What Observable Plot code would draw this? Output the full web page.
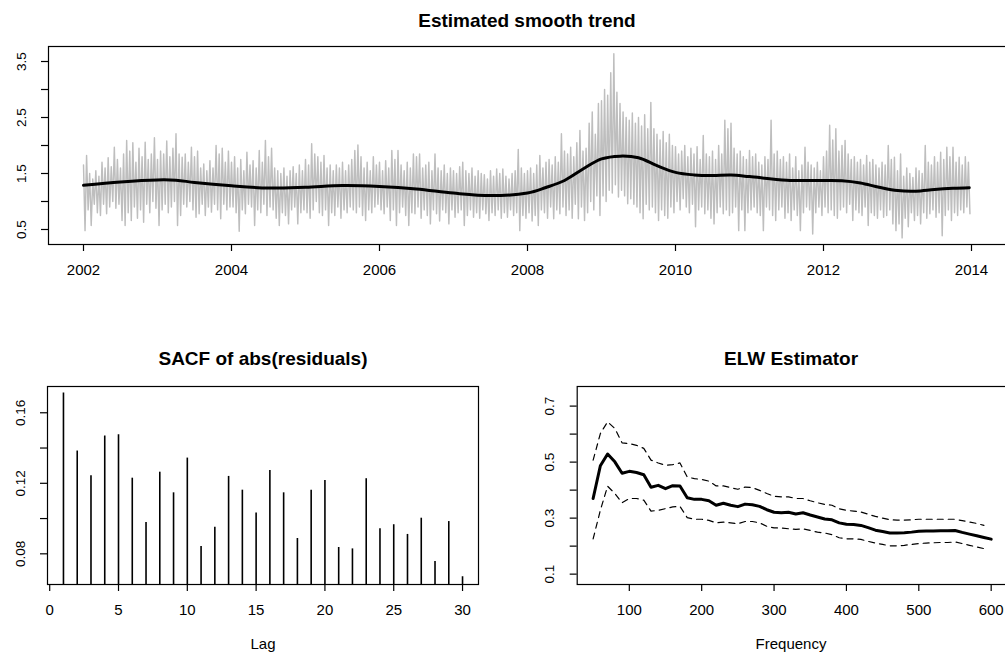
<!DOCTYPE html>
<html><head><meta charset="utf-8">
<script src="https://cdn.jsdelivr.net/npm/d3@7"></script>
<script src="https://cdn.jsdelivr.net/npm/@observablehq/plot@0.6"></script>
<style>
body{margin:0;background:#fff;}
#fig{position:relative;width:1005px;height:657px;overflow:hidden;background:#fff;font-family:"Liberation Sans",Arial,Helvetica,sans-serif;color:#000;}
.t{position:absolute;transform:translate(-50%,-50%);white-space:nowrap;line-height:1;}
.title{font-weight:bold;font-size:19px;}
.lab{font-size:15px;}
.panel{position:absolute;}
</style></head><body><div id="fig"></div>
<script>
// ---------- Top panel: daily series (read as local highs / lows, 24 per year) ----------
const seriesStart = 2002;
const seriesHigh = [
  1.65,1.82,1.50,1.40,1.55,1.45,1.70,1.60,1.78,1.62,1.97,1.75,1.60,1.85,2.09,1.90,2.05,1.70,1.95,1.80,2.06,1.75,1.85,2.14, // 2002
  1.75,1.90,1.85,2.08,1.80,1.95,2.21,1.85,1.79,1.85,1.70,1.97,1.80,1.90,1.60,1.67,1.55,1.73,1.60,2.00,1.85,1.95,1.70,1.90, // 2003
  1.70,1.80,1.60,1.75,1.55,1.88,1.65,1.73,1.60,1.91,1.70,2.09,1.80,1.95,1.60,1.55,1.50,1.60,1.45,1.55,1.62,1.50,1.65,1.55, // 2004
  1.75,1.65,2.03,1.85,1.80,1.70,1.82,1.60,1.65,1.55,1.65,1.60,1.70,1.55,1.65,1.75,1.91,2.01,1.80,1.60,1.70,1.55,1.80,1.65, // 2005
  1.70,1.55,1.73,1.60,1.91,1.75,1.91,1.65,1.55,1.70,1.60,1.85,1.80,1.85,1.60,1.65,1.70,1.55,1.85,1.60,1.55,1.65,1.50,1.60, // 2006
  1.55,1.50,1.62,1.70,1.55,1.50,1.60,1.45,1.55,1.50,1.48,1.40,1.55,1.45,1.58,1.50,1.58,1.45,1.40,1.50,1.55,1.93,1.60,1.50, // 2007
  1.55,1.60,1.50,1.65,1.82,1.60,1.70,1.75,1.65,1.80,1.70,2.21,1.90,1.85,1.97,1.80,2.05,2.27,1.90,1.95,2.40,2.60,2.20,2.75, // 2008
  2.80,3.00,2.90,3.30,3.64,2.95,2.75,2.60,2.50,2.45,2.58,2.40,2.50,2.35,2.55,2.30,2.77,2.30,2.20,2.10,2.25,2.05,2.20,2.00, // 2009
  1.98,1.85,1.90,2.00,1.80,1.95,1.85,1.98,1.75,2.18,1.85,1.80,1.90,1.75,2.00,1.85,2.45,2.30,2.40,1.95,1.85,1.90,1.80,1.75, // 2010
  1.91,1.80,1.85,1.70,1.65,1.80,1.75,2.45,1.85,1.90,1.75,1.80,1.70,1.85,1.60,1.80,1.55,1.65,1.97,1.70,1.65,1.60,1.70,1.55, // 2011
  1.80,1.90,2.36,2.10,2.30,1.90,2.00,2.09,1.85,1.75,1.80,1.70,1.75,1.65,1.82,1.70,1.75,1.65,1.60,1.70,1.65,2.00,1.75,1.79, // 2012
  1.55,1.85,1.45,1.60,1.50,1.43,1.60,1.55,1.50,2.00,1.70,1.65,1.80,1.70,1.88,1.75,1.97,1.80,1.97,1.70,1.79,1.65,1.80,1.70  // 2013
];
const seriesLow = [
  0.48,0.85,0.57,0.95,0.80,0.75,0.95,0.78,0.90,1.00,0.88,0.95,0.66,0.57,0.80,0.66,0.90,0.70,0.85,0.63,0.95,0.80,1.00,0.88, // 2002
  0.57,0.85,0.95,0.80,0.90,1.00,0.57,0.75,0.95,0.90,1.00,0.85,0.72,0.78,0.95,0.75,0.90,0.81,0.95,0.85,0.69,0.95,0.85,0.90, // 2003
  0.90,0.80,0.47,0.85,0.78,0.95,0.90,0.57,0.85,0.80,0.95,0.75,0.90,0.85,0.70,0.57,0.80,0.75,0.60,0.85,0.90,0.60,0.80,0.85, // 2004
  0.80,0.70,0.85,1.00,0.80,0.75,0.85,0.57,0.80,0.75,0.90,0.70,0.85,0.80,0.90,0.85,0.80,0.90,0.75,0.66,0.85,0.80,0.90,0.95, // 2005
  0.85,0.78,0.90,0.66,0.85,0.57,0.80,0.90,0.75,0.57,0.80,0.78,0.90,0.70,0.85,0.75,0.60,0.85,0.78,0.65,0.85,0.80,0.60,0.85, // 2006
  0.72,0.80,0.85,0.57,0.75,0.85,0.72,0.80,0.70,0.85,0.78,0.66,0.80,0.75,0.85,0.70,0.80,0.72,0.85,0.75,0.80,0.48,0.75,0.70, // 2007
  0.80,0.65,0.75,0.57,0.85,0.80,0.70,0.90,0.69,0.85,0.78,0.90,0.75,0.85,0.70,0.95,0.69,0.90,0.66,0.80,1.00,0.85,1.10,0.75, // 2008
  1.10,1.00,1.20,1.15,1.30,1.08,1.20,1.10,0.96,1.05,0.95,0.90,0.80,0.69,0.95,0.85,0.90,0.80,0.66,0.85,0.75,0.70,0.90,0.80, // 2009
  1.00,0.85,1.05,0.90,0.80,0.95,0.55,0.85,0.90,0.78,0.85,0.70,0.60,0.80,0.90,0.78,0.85,0.75,0.80,0.90,0.48,0.85,0.48,0.80, // 2010
  0.85,0.90,0.80,0.75,0.48,0.90,0.85,0.75,0.66,0.85,0.90,0.70,0.80,0.66,0.85,0.75,0.48,0.80,0.90,0.85,0.42,0.80,0.90,0.75, // 2011
  0.90,0.80,0.85,0.75,0.70,0.85,0.90,0.80,0.95,0.66,0.85,0.80,0.75,0.90,0.57,0.80,0.75,0.70,0.85,0.72,0.75,0.85,0.60,0.48, // 2012
  0.60,0.35,0.70,0.55,0.80,0.66,0.75,0.60,0.80,0.70,0.78,0.85,0.72,0.80,0.39,0.75,0.85,0.66,0.80,0.75,0.85,0.80,0.90,0.78  // 2013
];
// smooth trend
const trendYears = [2002,2002.5,2003,2003.25,2003.5,2004,2004.5,2005,2005.5,2006,2006.5,2007,2007.5,2008,2008.25,2008.5,2008.75,2009,2009.25,2009.5,2009.75,2010,2010.25,2010.5,2010.75,2011,2011.5,2012,2012.25,2012.5,2012.75,2013,2013.25,2013.5,2013.75,2013.97];
const trendValues = [1.29,1.35,1.385,1.38,1.34,1.28,1.24,1.255,1.285,1.27,1.225,1.15,1.105,1.15,1.25,1.375,1.58,1.76,1.81,1.78,1.64,1.52,1.475,1.465,1.475,1.445,1.38,1.375,1.37,1.33,1.255,1.195,1.185,1.215,1.235,1.245];
const yearTicks = [2002,2004,2006,2008,2010,2012,2014];
const topYTicks = [0.5,1,1.5,2,2.5,3,3.5];
const topYLabels = [0.5,1.5,2.5,3.5];

// ---------- Bottom-left: SACF ----------
const lags = [1,2,3,4,5,6,7,8,9,10,11,12,13,14,15,16,17,18,19,20,21,22,23,24,25,26,27,28,29,30];
const acfValues = [0.1712,0.1383,0.1243,0.1468,0.1475,0.1229,0.0978,0.1263,0.1146,0.1343,0.0842,0.0951,0.1239,0.1161,0.1031,0.1273,0.1146,0.0887,0.1161,0.1216,0.0836,0.0828,0.1226,0.0942,0.0965,0.0910,0.1002,0.0757,0.0983,0.0670];
const lagTicks = [0,5,10,15,20,25,30];
const acfYTicks = [0.08,0.10,0.12,0.14,0.16];
const acfYLabels = [0.08,0.12,0.16];

// ---------- Bottom-right: ELW estimator ----------
const elwFreq = [50,60,70,80,90,100,110,120,130,140,150,160,170,180,190,200,210,220,230,240,250,260,270,280,290,300,310,320,330,340,350,360,370,380,390,400,410,420,430,440,450,460,470,480,490,500,510,520,530,540,550,560,570,580,590,600];
const elwEstimate = [0.370,0.487,0.529,0.501,0.460,0.467,0.463,0.455,0.410,0.417,0.405,0.416,0.415,0.373,0.367,0.367,0.362,0.346,0.353,0.346,0.341,0.350,0.348,0.342,0.330,0.321,0.319,0.321,0.315,0.319,0.311,0.304,0.297,0.294,0.283,0.278,0.277,0.274,0.266,0.257,0.252,0.247,0.247,0.248,0.250,0.253,0.254,0.254,0.255,0.255,0.256,0.249,0.243,0.237,0.231,0.225];
const bandFreq = [50,60,70,80,90,100,110,120,130,140,150,160,170,180,190,200,210,220,230,240,250,260,270,280,290,300,310,320,330,340,350,360,370,380,390,400,410,420,430,440,450,460,470,480,490,500,510,520,530,540,550,560,570,580,590];
const elwUpper = [0.507,0.602,0.644,0.620,0.569,0.566,0.560,0.549,0.507,0.497,0.489,0.491,0.497,0.447,0.441,0.438,0.432,0.415,0.415,0.409,0.403,0.411,0.409,0.399,0.388,0.378,0.376,0.376,0.370,0.370,0.362,0.355,0.349,0.346,0.333,0.328,0.325,0.322,0.314,0.306,0.300,0.294,0.293,0.293,0.294,0.296,0.296,0.296,0.296,0.296,0.296,0.291,0.286,0.281,0.274];
const elwLower = [0.226,0.328,0.414,0.388,0.355,0.370,0.370,0.364,0.325,0.328,0.334,0.340,0.342,0.302,0.296,0.296,0.292,0.283,0.286,0.283,0.280,0.288,0.288,0.283,0.271,0.265,0.265,0.262,0.260,0.262,0.256,0.250,0.247,0.241,0.230,0.226,0.226,0.224,0.217,0.211,0.206,0.201,0.201,0.203,0.206,0.209,0.211,0.212,0.213,0.213,0.215,0.209,0.203,0.197,0.191];
const freqTicks = [100,200,300,400,500,600];
const elwYTicks = [0.1,0.2,0.3,0.4,0.5,0.6,0.7];
const elwYLabels = [0.1,0.3,0.5,0.7];

// ---------- build ----------
const fig = document.getElementById("fig");
const FONT = "'Liberation Sans',Arial,Helvetica,sans-serif";
const svgStyle = `max-width:none;overflow:visible;background:transparent;font-family:${FONT};`;

function addText(txt, x, y, cls) {
  const d = document.createElement("div");
  d.className = "t " + cls;
  d.textContent = txt;
  d.style.left = x + "px"; d.style.top = y + "px";
  fig.appendChild(d);
}
function addPanel(svg, left, top) {
  const d = document.createElement("div");
  d.className = "panel";
  d.style.left = left + "px"; d.style.top = top + "px";
  d.appendChild(svg);
  fig.appendChild(d);
}
function xAxis(ticks, fmt) {
  return Plot.axisX({ticks, tickSize: 7, tickPadding: 13, tickFormat: fmt, label: null, fontSize: 15, strokeWidth: 1.2});
}
function yAxis(ticks, labels, digits) {
  return Plot.axisY({ticks, tickSize: 7, tickPadding: 16, tickRotate: -90, label: null, fontSize: 13.5, strokeWidth: 1.2,
    tickFormat: d => labels.some(l => Math.abs(l - d) < 1e-9) ? d.toFixed(digits) : ""});
}

// top panel
const seriesPts = [];
seriesHigh.forEach((h, i) => {
  seriesPts.push({t: seriesStart + i / 24, v: h});
  seriesPts.push({t: seriesStart + i / 24 + 1 / 48, v: seriesLow[i]});
});
const trendPts = trendYears.map((t, i) => ({t, v: trendValues[i]}));

const p1 = Plot.plot({
  width: 1010, height: 290, marginLeft: 48, marginRight: 4, marginTop: 46, marginBottom: 46,
  style: svgStyle,
  x: {domain: [2001.527, 2014.473]},
  y: {domain: [0.232, 3.768]},
  marks: [
    Plot.line(seriesPts, {x: "t", y: "v", stroke: "#bebebe", strokeWidth: 1.45}),
    Plot.line(trendPts, {x: "t", y: "v", stroke: "#000", strokeWidth: 3, curve: "catmull-rom"}),
    xAxis(yearTicks, d => String(d)),
    yAxis(topYTicks, topYLabels, 1),
    Plot.frame({stroke: "#000", strokeWidth: 1.2})
  ]
});
addPanel(p1, 0, 0);

// bottom-left
const acfData = lags.map((l, i) => ({lag: l, acf: acfValues[i]}));
const p2 = Plot.plot({
  width: 500, height: 357, marginLeft: 47, marginRight: 22, marginTop: 86, marginBottom: 73,
  style: svgStyle,
  x: {domain: [-0.16, 31.16]},
  y: {domain: [0.0626, 0.1749]},
  marks: [
    Plot.ruleX(acfData, {x: "lag", y1: 0, y2: "acf", stroke: "#000", strokeWidth: 1.6, clip: true}),
    xAxis(lagTicks, d => String(d)),
    yAxis(acfYTicks, acfYLabels, 2),
    Plot.frame({stroke: "#000", strokeWidth: 1.2})
  ]
});
addPanel(p2, 0, 300);

// bottom-right
const estPts = elwFreq.map((f, i) => ({f, v: elwEstimate[i]}));
const upPts = bandFreq.map((f, i) => ({f, v: elwUpper[i]}));
const loPts = bandFreq.map((f, i) => ({f, v: elwLower[i]}));
const p3 = Plot.plot({
  width: 510, height: 357, marginLeft: 76.7, marginRight: 3.4, marginTop: 86, marginBottom: 73,
  style: svgStyle,
  x: {domain: [28, 622]},
  y: {domain: [0.063, 0.770]},
  marks: [
    Plot.line(upPts, {x: "f", y: "v", stroke: "#000", strokeWidth: 1.2, strokeDasharray: "6,5"}),
    Plot.line(loPts, {x: "f", y: "v", stroke: "#000", strokeWidth: 1.2, strokeDasharray: "6,5"}),
    Plot.line(estPts, {x: "f", y: "v", stroke: "#000", strokeWidth: 3}),
    xAxis(freqTicks, d => String(d)),
    yAxis(elwYTicks, elwYLabels, 1),
    Plot.frame({stroke: "#000", strokeWidth: 1.2})
  ]
});
addPanel(p3, 500, 300);

// titles & axis labels
addText("Estimated smooth trend", 527, 20, "title");
addText("SACF of abs(residuals)", 263, 358, "title");
addText("ELW Estimator", 791, 358, "title");
addText("Lag", 263, 643, "lab");
addText("Frequency", 791, 643, "lab");
</script></body></html>
